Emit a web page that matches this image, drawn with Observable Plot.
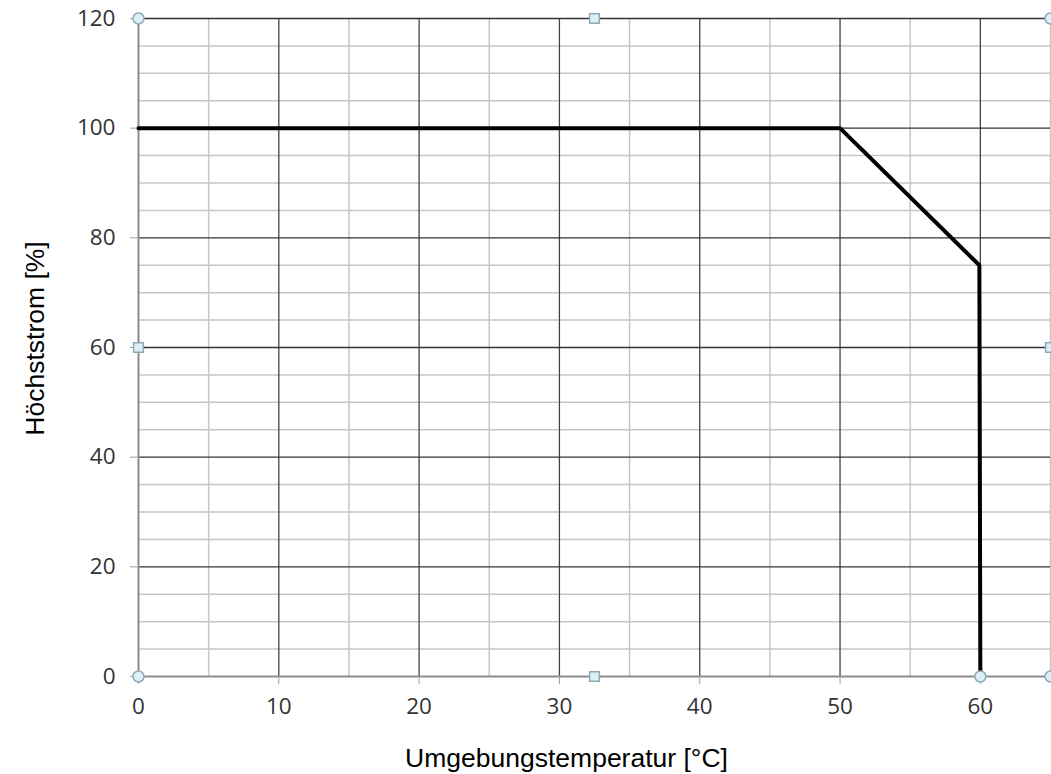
<!DOCTYPE html>
<html>
<head>
<meta charset="utf-8">
<script src="https://cdn.jsdelivr.net/npm/d3@7"></script>
<script src="https://cdn.jsdelivr.net/npm/@observablehq/plot@0.6"></script>
<style>
html, body { margin: 0; padding: 0; background: #fff; }
</style>
</head>
<body>
<div id="chart"></div>
<script>
// Data
const temperature = [0, 50, 59.93, 60];
const current = [100, 100, 75, 0];

// Tick / grid values
const xMajor = [0, 10, 20, 30, 40, 50, 60];
const xMinor = [5, 15, 25, 35, 45, 55, 65];
const yMajor = [0, 20, 40, 60, 80, 100, 120];
const yMinor = [5, 10, 15, 25, 30, 35, 45, 50, 55, 65, 70, 75, 85, 90, 95, 105, 110, 115];

// Excel-style selection handles (data units)
const handleCircleX = [0, 65, 0, 65, 60];
const handleCircleY = [120, 120, 0, 0, 0];
const handleSquareX = [32.5, 32.5, 0, 65];
const handleSquareY = [120, 0, 60, 60];

const line = temperature.map((t, i) => ({t, c: current[i]}));
const circles = handleCircleX.map((x, i) => ({x, y: handleCircleY[i]}));
const squares = handleSquareX.map((x, i) => ({x, y: handleSquareY[i]}));

const tickFont = "'Open Sans', 'Noto Sans', sans-serif";
const titleFont = "'Liberation Sans', Arial, sans-serif";

const chart = Plot.plot({
  width: 1051,
  height: 774,
  marginLeft: 138,
  marginRight: 1,
  marginTop: 18,
  marginBottom: 98,
  style: {background: "#fff", overflow: "visible"},
  x: {domain: [0, 65]},
  y: {domain: [0, 120]},
  marks: [
    Plot.ruleX(xMinor, {stroke: "#c6c6c6", strokeWidth: 1.5}),
    Plot.ruleY(yMinor, {stroke: "#c6c6c6", strokeWidth: 1.5}),
    Plot.ruleX(xMajor.filter(d => d > 0), {stroke: "#444", strokeWidth: 1.3}),
    Plot.ruleY(yMajor.filter(d => d > 0), {stroke: "#333", strokeWidth: 1.3}),
    Plot.ruleX([0], {stroke: "#8c8c8c", strokeWidth: 2}),
    Plot.ruleY([0], {stroke: "#8c8c8c", strokeWidth: 2}),
    Plot.axisX({ticks: xMajor, tickSize: 8, tickPadding: 14, stroke: "#a0a0a0",
      fontSize: 22.5, fontFamily: tickFont, fill: "#333", label: null}),
    Plot.axisY({ticks: yMajor, tickSize: 8, tickPadding: 15, stroke: "#a0a0a0",
      fontSize: 22.5, fontFamily: tickFont, fill: "#333", label: null}),
    Plot.line(line, {x: "t", y: "c", stroke: "#000", strokeWidth: 4, strokeLinejoin: "miter"}),
    Plot.dot(circles, {x: "x", y: "y", r: 5.5, fill: "#ddf0f6", stroke: "#8fa8b6", strokeWidth: 1.5, clip: false}),
    Plot.dot(squares, {x: "x", y: "y", symbol: "square", r: 5.5, fill: "#ddf0f6", stroke: "#8fa8b6", strokeWidth: 1.5, clip: false}),
    Plot.text(["Umgebungstemperatur [°C]"], {frameAnchor: "bottom", dx: -28, dy: 82,
      textAnchor: "middle", lineAnchor: "middle",
      fontSize: 26.5, fontFamily: titleFont, fill: "#000"}),
    Plot.text(["Höchststrom [%]"], {frameAnchor: "left", dx: -103, dy: -9, rotate: -90,
      textAnchor: "middle", lineAnchor: "middle",
      fontSize: 26.5, fontFamily: titleFont, fill: "#000"})
  ]
});
document.getElementById("chart").appendChild(chart);
</script>
</body>
</html>
